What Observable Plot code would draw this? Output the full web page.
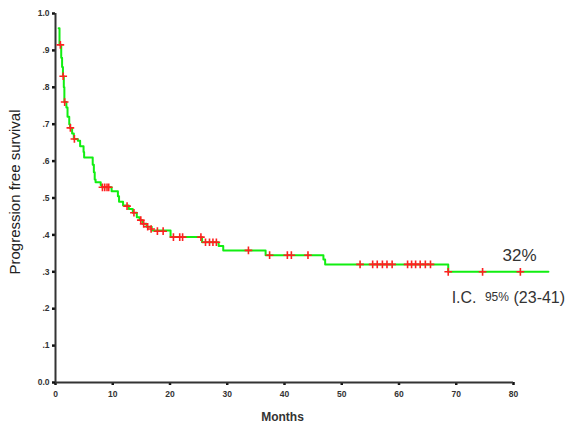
<!DOCTYPE html>
<html>
<head>
<meta charset="utf-8">
<script src="https://cdn.jsdelivr.net/npm/d3@7"></script>
<script src="https://cdn.jsdelivr.net/npm/@observablehq/plot@0.6"></script>
<style>
  html, body { margin: 0; padding: 0; background: #fff; }
  svg { display: block; }
</style>
</head>
<body>
<div id="chart"></div>
<script>
// Kaplan-Meier step curve: months and survival level after each step
const stepMonths = [0.55, 0.7, 1.0, 1.15, 1.3, 1.45, 1.55, 1.9, 2.1, 2.4, 2.55, 2.9, 3.2, 3.9, 4.3, 4.9, 5.0, 6.5, 6.7, 6.85, 7.0, 7.9, 8.1, 9.8, 10.9, 11.1, 11.8, 12.8, 13.5, 14.2, 14.7, 15.2, 15.9, 16.8, 20.1, 25.6, 28.5, 29.3, 36.7, 46.8, 47.1, 68.6, 86.1];
const stepSurvival = [0.96, 0.915, 0.88, 0.855, 0.83, 0.80, 0.76, 0.745, 0.72, 0.70, 0.69, 0.675, 0.66, 0.655, 0.64, 0.625, 0.61, 0.59, 0.57, 0.55, 0.543, 0.535, 0.529, 0.518, 0.505, 0.49, 0.48, 0.47, 0.46, 0.448, 0.44, 0.43, 0.422, 0.412, 0.394, 0.38, 0.37, 0.358, 0.345, 0.333, 0.32, 0.30, 0.30];

// Censored observations (red +)
const censorMonths = [0.85, 1.35, 1.6, 2.6, 3.3, 8.2, 8.6, 9.0, 9.3, 12.5, 13.7, 14.9, 15.4, 16.1, 16.7, 17.8, 18.8, 20.6, 21.7, 22.2, 25.4, 26.2, 26.9, 27.5, 28.1, 33.7, 37.4, 40.5, 41.2, 44.1, 53.2, 55.4, 56.2, 57.1, 57.9, 58.8, 61.5, 62.2, 62.9, 63.7, 64.6, 65.5, 68.6, 74.6, 81.2];
const censorSurvival = [0.915, 0.83, 0.76, 0.69, 0.66, 0.529, 0.529, 0.529, 0.529, 0.478, 0.46, 0.44, 0.43, 0.422, 0.416, 0.41, 0.41, 0.394, 0.394, 0.394, 0.394, 0.38, 0.38, 0.38, 0.38, 0.358, 0.345, 0.345, 0.345, 0.345, 0.32, 0.32, 0.32, 0.32, 0.32, 0.32, 0.32, 0.32, 0.32, 0.32, 0.32, 0.32, 0.30, 0.30, 0.30];

const xTicks = [0, 10, 20, 30, 40, 50, 60, 70, 80];
const yTicks = [0, 0.1, 0.2, 0.3, 0.4, 0.5, 0.6, 0.7, 0.8, 0.9, 1.0];
const yTickLabels = ["0.0", ".1", ".2", ".3", ".4", ".5", ".6", ".7", ".8", ".9", "1.0"];

const xLabel = "Months";
const yLabel = "Progression free survival";

// Annotation texts and their data positions
const medianText = "32%";
const medianAt = [81.05, 0.344];
const ciParts = ["I.C.", "95%", "(23-41)"];
const ciMonths = [69.2, 75.0, 80.0];
const ciSurvival = [0.228, 0.232, 0.228];

const steps = stepMonths.map((t, i) => ({t, s: stepSurvival[i]}));
const censors = censorMonths.map((t, i) => ({t, s: censorSurvival[i]}));
const fmtY = d => yTickLabels[yTicks.findIndex(v => Math.abs(v - d) < 1e-9)];

const font = "'Liberation Sans', Arial, sans-serif";

const chart = Plot.plot({
  width: 582,
  height: 426,
  marginLeft: 55,
  marginRight: 69,
  marginTop: 13,
  marginBottom: 44,
  style: {fontFamily: font, background: "#fff", color: "#222"},
  x: {domain: [0, 80]},
  y: {domain: [0, 1]},
  marks: [
    Plot.axisX({ticks: xTicks, tickSize: 3, tickPadding: 5, strokeWidth: 2.5, stroke: "#111", fontSize: 8.5, fontWeight: "bold", fill: "#333", label: null}),
    Plot.axisY({ticks: yTicks, tickFormat: fmtY, tickSize: 3, tickPadding: 3, strokeWidth: 2.5, stroke: "#111", fontSize: 8.5, fontWeight: "bold", fill: "#333", label: null}),
    Plot.ruleX([0], {stroke: "#333", strokeWidth: 2}),
    Plot.ruleY([0], {stroke: "#333", strokeWidth: 2}),
    Plot.line(steps, {x: "t", y: "s", curve: "step-after", stroke: "#11ee11", strokeWidth: 2}),
    Plot.dot(censors, {x: "t", y: "s", symbol: "plus", r: 2.6, stroke: "#ff2020", strokeWidth: 1.6}),
    Plot.text([yLabel], {frameAnchor: "left", textAnchor: "middle", dx: -40, dy: -6, rotate: -90, fontSize: 15, fill: "#222", fontFamily: font}),
    Plot.text([xLabel], {frameAnchor: "bottom", dx: -2, dy: 38, fontSize: 12, fontWeight: "bold", fill: "#333", fontFamily: font}),
    Plot.text([medianText], {x: () => medianAt[0], y: () => medianAt[1], fontSize: 17, fill: "#333", fontFamily: font}),
    Plot.text(ciParts, {
      x: (d, i) => ciMonths[i], y: (d, i) => ciSurvival[i], textAnchor: "start",
      fontSize: (d, i) => i === 1 ? 12 : 16,
      fontWeight: (d, i) => i === 1 ? "bold" : "normal",
      fill: "#333", fontFamily: font
    })
  ]
});
document.getElementById("chart").appendChild(chart);
</script>
</body>
</html>
